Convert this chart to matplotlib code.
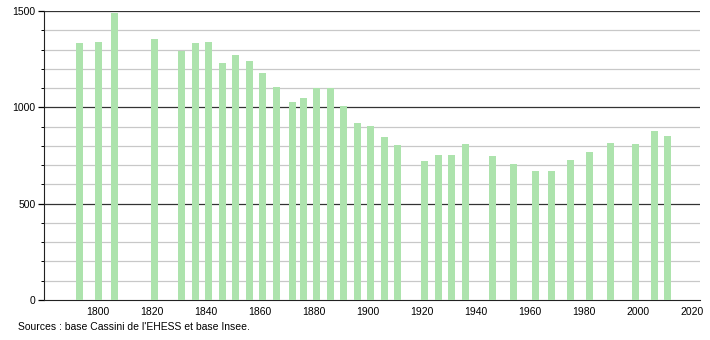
import numpy as np
import matplotlib.pyplot as plt
from matplotlib.ticker import MultipleLocator

# recensements
annees = [1793, 1800, 1806, 1821, 1831, 1836, 1841, 1846, 1851, 1856,
          1861, 1866, 1872, 1876, 1881, 1886, 1891, 1896, 1901, 1906,
          1911, 1921, 1926, 1931, 1936, 1946, 1954, 1962, 1968, 1975,
          1982, 1990, 1999, 2006, 2011]
population = [1332, 1337, 1488, 1353, 1292, 1332, 1337, 1228, 1271, 1240,
              1178, 1104, 1027, 1048, 1099, 1099, 1007, 917, 901, 846,
              804, 721, 752, 752, 808, 749, 707, 668, 668, 726,
              768, 813, 809, 875, 851]
xticks = [1800, 1820, 1840, 1860, 1880, 1900, 1920, 1940, 1960, 1980, 2000, 2020]

plt.rcParams['font.family'] = ['Liberation Sans', 'DejaVu Sans']

fig = plt.figure(figsize=(7.1, 3.4), dpi=100)
ax = fig.add_axes([0.062, 0.1176, 0.924, 0.85])

ax.bar(annees, population, width=2.6, color='#ade3ad', zorder=3)

ax.set_xlim(1780, 2023)
ax.set_ylim(0, 1500)

# grille
for v in range(100, 1500, 100):
    if v % 500 == 0:
        ax.axhline(v, color='#333333', lw=0.9, zorder=1)
    else:
        ax.axhline(v, color='#c8c8c8', lw=0.9, zorder=1)
ax.axhline(1500, color='#333333', lw=0.9, zorder=1)

ax.yaxis.set_major_locator(MultipleLocator(500))
ax.yaxis.set_minor_locator(MultipleLocator(100))
ax.set_xticks(xticks)
ax.tick_params(axis='x', length=0, labelsize=7.5, pad=5)
ax.tick_params(axis='y', which='major', length=4, width=0.9, labelsize=7.5, pad=2)
ax.tick_params(axis='y', which='minor', length=2, width=0.7)

for s in ['top', 'right']:
    ax.spines[s].set_visible(False)
ax.spines['left'].set_color('#222222')
ax.spines['bottom'].set_color('#222222')

fig.text(18 / 710, 1 - 327 / 340, "Sources : base Cassini de l'EHESS et base Insee.",
         fontsize=7.5, va='center', ha='left')

fig.savefig('out.png', dpi=100)
